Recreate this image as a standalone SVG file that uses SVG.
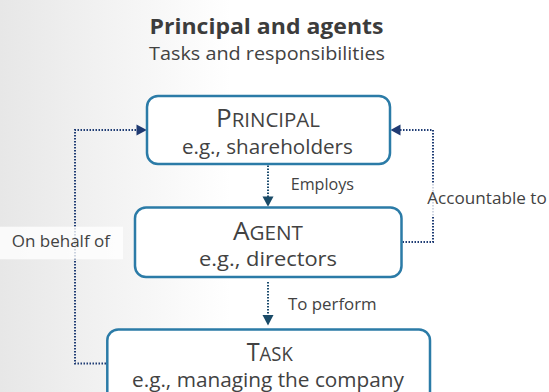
<svg xmlns="http://www.w3.org/2000/svg" width="549" height="392" viewBox="0 0 549 392">
  <defs>
    <linearGradient id="bg" x1="0" y1="0" x2="1" y2="0">
      <stop offset="0" stop-color="#e7e7e7"/>
      <stop offset="0.42" stop-color="#ffffff"/>
      <stop offset="1" stop-color="#ffffff"/>
    </linearGradient>
    <style>
      text { font-family: "Open Sans", "Noto Sans", "DejaVu Sans", sans-serif; fill: #424242; }
      .title { font-size: 22px; font-weight: bold; fill: #3c3c3c; }
      .subtitle { font-size: 19px; }
      .box { fill: #ffffff; stroke: #2b7ba7; stroke-width: 2.5; }
      .cap { font-size: 26px; }
      .sc { font-size: 20.5px; }
      .detail { font-size: 20px; }
      .label { font-size: 16.5px; }
      .band { fill: #ffffff; fill-opacity: 0.78; }
      .link { fill: none; stroke: #1f3c74; stroke-width: 2; stroke-dasharray: 1.5 1.5; }
      .link-v { fill: none; stroke: #1b4b6d; stroke-width: 2; stroke-dasharray: 1.5 1.5; }
      .head { fill: #1f3a72; }
      .head-v { fill: #1a4b68; }
    </style>
  </defs>

  <!-- background -->
  <rect x="0" y="0" width="549" height="392" fill="url(#bg)"/>

  <!-- heading -->
  <text class="title" x="266.5" y="34" text-anchor="middle" textLength="234" lengthAdjust="spacingAndGlyphs">Principal and agents</text>
  <text class="subtitle" x="267" y="60" text-anchor="middle" textLength="236" lengthAdjust="spacingAndGlyphs">Tasks and responsibilities</text>

  <!-- connectors -->
  <g id="connectors">
    <!-- Employs -->
    <line class="link-v" x1="268" y1="165.5" x2="268" y2="197.5"/>
    <polygon class="head-v" points="262.5,196.5 273.5,196.5 268,206.8"/>
    <!-- To perform -->
    <line class="link-v" x1="268" y1="282" x2="268" y2="316"/>
    <polygon class="head-v" points="262.5,315 273.5,315 268,325.5"/>
    <!-- Accountable to -->
    <path class="link" d="M402.5,242 H433 V130 H400"/>
    <polygon class="head" points="400.5,124.5 400.5,135.5 390.5,130"/>
    <!-- On behalf of -->
    <path class="link" d="M106,363.5 H75 V130 H137"/>
    <polygon class="head" points="136.5,124.5 136.5,135.5 146.8,130"/>

    <!-- connector labels -->
    <text class="label" x="290.7" y="190" textLength="63.3" lengthAdjust="spacingAndGlyphs">Employs</text>
    <text class="label" x="288" y="309.5" textLength="88.7" lengthAdjust="spacingAndGlyphs">To perform</text>
    <rect class="band" x="425" y="184" width="124" height="32.5"/>
    <text class="label" x="427.3" y="204" textLength="119.4" lengthAdjust="spacingAndGlyphs">Accountable to</text>
    <rect class="band" x="0" y="226.7" width="123" height="32.6"/>
    <text class="label" x="11.7" y="246.7" textLength="98.3" lengthAdjust="spacingAndGlyphs">On behalf of</text>
  </g>

  <!-- nodes -->
  <g id="principal">
    <rect class="box" x="147" y="96" width="243" height="68" rx="11"/>
    <text x="268" y="127" text-anchor="middle" textLength="104" lengthAdjust="spacingAndGlyphs"><tspan class="cap">P</tspan><tspan class="sc">RINCIPAL</tspan></text>
    <text class="detail" x="267.4" y="154" text-anchor="middle" textLength="171" lengthAdjust="spacingAndGlyphs">e.g., shareholders</text>
  </g>

  <g id="agent">
    <rect class="box" x="135" y="207.5" width="266.5" height="69.5" rx="11"/>
    <text x="268" y="240" text-anchor="middle" textLength="70" lengthAdjust="spacingAndGlyphs"><tspan class="cap">A</tspan><tspan class="sc">GENT</tspan></text>
    <text class="detail" x="268" y="266" text-anchor="middle" textLength="138" lengthAdjust="spacingAndGlyphs">e.g., directors</text>
  </g>

  <g id="task">
    <rect class="box" x="107.3" y="329.5" width="322.7" height="80" rx="11"/>
    <text x="269.7" y="360.7" text-anchor="middle" textLength="46" lengthAdjust="spacingAndGlyphs"><tspan class="cap">T</tspan><tspan class="sc">ASK</tspan></text>
    <text class="detail" x="268" y="387" text-anchor="middle" textLength="272" lengthAdjust="spacingAndGlyphs">e.g., managing the company</text>
  </g>
</svg>
